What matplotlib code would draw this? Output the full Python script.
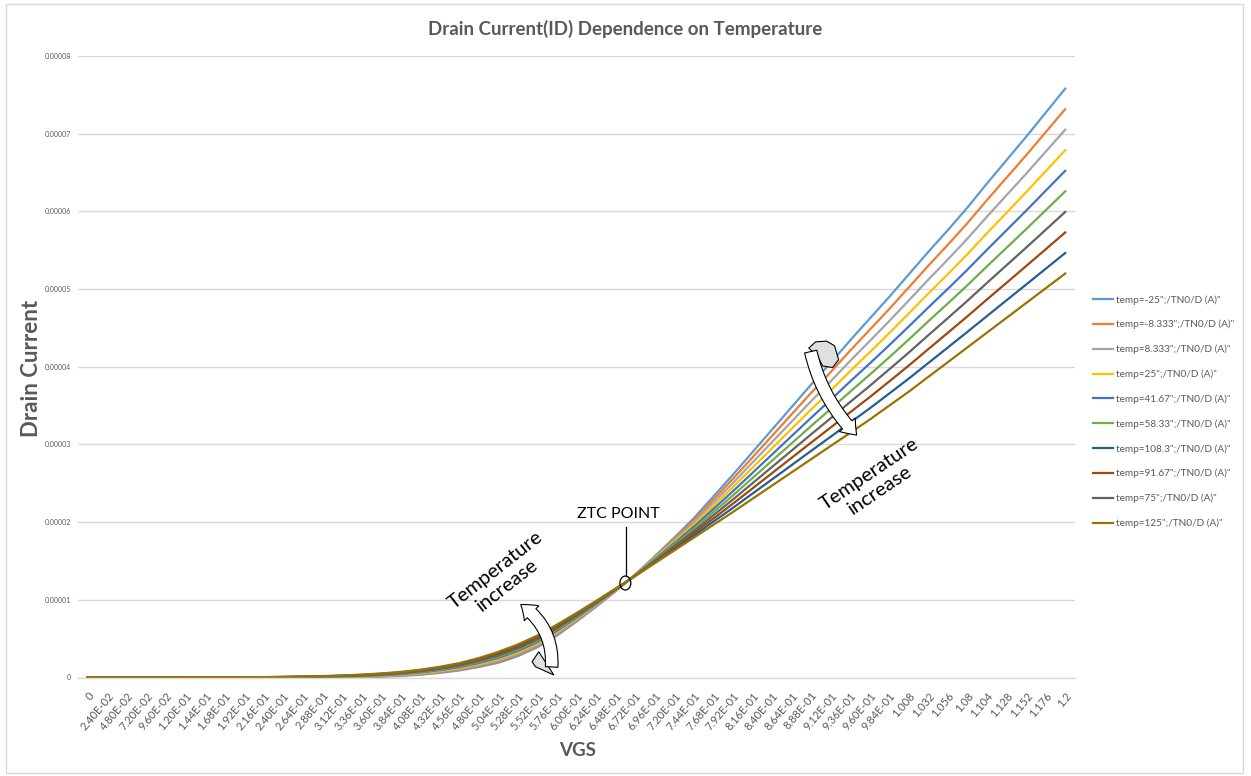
import numpy as np
import matplotlib
matplotlib.use("Agg")
import matplotlib.pyplot as plt
from matplotlib.patches import Ellipse, FancyArrowPatch, Polygon, Rectangle

plt.rcParams['font.family'] = ['Lato', 'DejaVu Sans']

# VGS sweep (V), one category per point
vgs = [0.000, 0.024, 0.048, 0.072, 0.096, 0.120, 0.144, 0.168, 0.192, 0.216,
       0.240, 0.264, 0.288, 0.312, 0.336, 0.360, 0.384, 0.408, 0.432, 0.456,
       0.480, 0.504, 0.528, 0.552, 0.576, 0.600, 0.624, 0.648, 0.672, 0.696,
       0.720, 0.744, 0.768, 0.792, 0.816, 0.840, 0.864, 0.888, 0.912, 0.936,
       0.960, 0.984, 1.008, 1.032, 1.056, 1.080, 1.104, 1.128, 1.152, 1.176,
       1.200]

# drain current in uA
id_m25 = [0, 0, 0, 0, 0, 0, 0, 0.001, 0.001, 0.002,
          0.003, 0.005, 0.01, 0.02, 0.05, 0.10, 0.20, 0.35, 0.60, 0.90,
          1.35, 1.90, 2.75, 3.90, 5.40, 7.20, 9.10, 11.10, 13.25, 15.60,
          18.00, 20.50, 23.30, 26.10, 29.00, 31.90, 34.80, 37.70, 40.50, 43.40,
          46.20, 49.00, 51.90, 54.80, 57.60, 60.50, 63.60, 66.60, 69.60, 72.70,
          75.80]
id_m8 = [0.0001, 0.0001, 0.0002, 0.0003, 0.0006, 0.0009, 0.0013, 0.0031, 0.0042, 0.0073,
         0.012, 0.018, 0.029, 0.047, 0.086, 0.147, 0.258, 0.422, 0.687, 1.006,
         1.478, 2.056, 2.917, 4.067, 5.556, 7.322, 9.183, 11.14, 13.23, 15.50,
         17.82, 20.22, 22.89, 25.57, 28.33, 31.10, 33.87, 36.63, 39.31, 42.08,
         44.76, 47.44, 50.22, 53.01, 55.71, 58.50, 61.47, 64.34, 67.22, 70.19,
         73.16]
id_p8 = [0.0002, 0.0002, 0.0004, 0.0007, 0.0011, 0.0018, 0.0027, 0.0052, 0.0074, 0.0127,
         0.020, 0.031, 0.048, 0.073, 0.121, 0.193, 0.316, 0.494, 0.773, 1.111,
         1.606, 2.211, 3.083, 4.233, 5.711, 7.444, 9.267, 11.18, 13.21, 15.40,
         17.63, 19.94, 22.49, 25.03, 27.67, 30.30, 32.93, 35.57, 38.12, 40.76,
         43.31, 45.89, 48.54, 51.22, 53.82, 56.50, 59.33, 62.09, 64.84, 67.68,
         70.51]
id_25 = [0.0003, 0.0003, 0.0007, 0.001, 0.0017, 0.0027, 0.004, 0.0073, 0.0107, 0.018,
         0.029, 0.043, 0.067, 0.10, 0.157, 0.24, 0.373, 0.567, 0.86, 1.217,
         1.733, 2.367, 3.25, 4.40, 5.867, 7.567, 9.35, 11.22, 13.18, 15.30,
         17.45, 19.67, 22.08, 24.50, 27.00, 29.50, 32.00, 34.50, 36.93, 39.43,
         41.87, 44.33, 46.87, 49.43, 51.93, 54.50, 57.20, 59.83, 62.47, 65.17,
         67.87]
id_42 = [0.0004, 0.0004, 0.0009, 0.0013, 0.0022, 0.0036, 0.0053, 0.0094, 0.0139, 0.0233,
         0.037, 0.056, 0.086, 0.127, 0.192, 0.287, 0.431, 0.639, 0.947, 1.322,
         1.861, 2.522, 3.417, 4.567, 6.022, 7.689, 9.433, 11.26, 13.16, 15.20,
         17.27, 19.39, 21.68, 23.97, 26.33, 28.70, 31.07, 33.43, 35.74, 38.11,
         40.42, 42.78, 45.19, 47.64, 50.04, 52.50, 55.07, 57.58, 60.09, 62.66,
         65.22]
id_58 = [0.0006, 0.0006, 0.0011, 0.0017, 0.0028, 0.0044, 0.0067, 0.0116, 0.0171, 0.0287,
         0.046, 0.069, 0.104, 0.153, 0.228, 0.333, 0.489, 0.711, 1.033, 1.428,
         1.989, 2.678, 3.583, 4.733, 6.178, 7.811, 9.517, 11.29, 13.14, 15.10,
         17.08, 19.11, 21.27, 23.43, 25.67, 27.90, 30.13, 32.37, 34.56, 36.79,
         38.98, 41.22, 43.51, 45.86, 48.16, 50.50, 52.93, 55.32, 57.71, 60.14,
         62.58]
id_75 = [0.0007, 0.0007, 0.0013, 0.002, 0.0033, 0.0053, 0.008, 0.0137, 0.0203, 0.034,
         0.054, 0.082, 0.123, 0.18, 0.263, 0.38, 0.547, 0.783, 1.12, 1.533,
         2.117, 2.833, 3.75, 4.90, 6.333, 7.933, 9.60, 11.33, 13.12, 15.00,
         16.90, 18.83, 20.87, 22.90, 25.00, 27.10, 29.20, 31.30, 33.37, 35.47,
         37.53, 39.67, 41.83, 44.07, 46.27, 48.50, 50.80, 53.07, 55.33, 57.63,
         59.93]
id_92 = [0.0008, 0.0008, 0.0016, 0.0023, 0.0039, 0.0062, 0.0093, 0.0158, 0.0236, 0.0393,
         0.063, 0.094, 0.142, 0.207, 0.299, 0.427, 0.604, 0.856, 1.207, 1.639,
         2.244, 2.989, 3.917, 5.067, 6.489, 8.056, 9.683, 11.37, 13.09, 14.90,
         16.72, 18.56, 20.46, 22.37, 24.33, 26.30, 28.27, 30.23, 32.18, 34.14,
         36.09, 38.11, 40.16, 42.28, 44.38, 46.50, 48.67, 50.81, 52.96, 55.12,
         57.29]
id_108 = [0.0009, 0.0009, 0.0018, 0.0027, 0.0044, 0.0071, 0.0107, 0.0179, 0.0268, 0.0447,
          0.071, 0.107, 0.161, 0.233, 0.334, 0.473, 0.662, 0.928, 1.293, 1.744,
          2.372, 3.144, 4.083, 5.233, 6.644, 8.178, 9.767, 11.41, 13.07, 14.80,
          16.53, 18.28, 20.06, 21.83, 23.67, 25.50, 27.33, 29.17, 30.99, 32.82,
          34.64, 36.56, 38.48, 40.49, 42.49, 44.50, 46.53, 48.56, 50.58, 52.61,
          54.64]
id_125 = [0.001, 0.001, 0.002, 0.003, 0.005, 0.008, 0.012, 0.02, 0.03, 0.05,
          0.08, 0.12, 0.18, 0.26, 0.37, 0.52, 0.72, 1.0, 1.38, 1.85,
          2.5, 3.3, 4.25, 5.4, 6.8, 8.3, 9.85, 11.45, 13.05, 14.7,
          16.35, 18.0, 19.65, 21.3, 23.0, 24.7, 26.4, 28.1, 29.8, 31.5,
          33.2, 35.0, 36.8, 38.7, 40.6, 42.5, 44.4, 46.3, 48.2, 50.1,
          52.0]

temps = ['-25', '-8.333', '8.333', '25', '41.67', '58.33', '108.3', '91.67', '75', '125']
curves = [id_m25, id_m8, id_p8, id_25, id_42, id_58, id_108, id_92, id_75, id_125]
colors = ['#5B9BD5', '#ED7D31', '#A5A5A5', '#FFC000', '#4472C4',
          '#70AD47', '#255E91', '#9E480E', '#636363', '#997300']

grey_txt = '#595959'
W, H = 1251, 776

fig = plt.figure(figsize=(W / 100, H / 100), dpi=100)
ax = fig.add_axes([78 / W, 98.5 / H, 997 / W, 621.5 / H])

xpos = np.arange(len(vgs))
for t, d, c in zip(temps, curves, colors):
    ax.plot(xpos, np.array(d) * 1e-6, color=c, lw=1.6,
            label=f'temp={t}";/TN0/D (A)"')

ax.set_xlim(-0.5, len(vgs) - 0.5)
ax.set_ylim(0, 8e-5)


def excel_general(v):
    if v == 0:
        return '0'
    if v < 1:
        return f'{v:.2E}'
    return f'{v:g}'


ax.set_xticks(xpos)
ax.set_xticklabels([excel_general(v) for v in vgs], rotation=50, ha='right',
                   va='top', rotation_mode='anchor', fontsize=8, color=grey_txt,
                   family=['Liberation Sans Narrow', 'Lato'])
yt = np.arange(0, 9) * 1e-5
ax.set_yticks(yt)
ax.set_yticklabels(['0'] + [f'{v:.5f}' for v in yt[1:]], fontsize=5, color=grey_txt)
ax.tick_params(axis='x', length=0, pad=9)
ax.tick_params(axis='y', length=0, pad=5)

ax.grid(axis='y', color='#d9d9d9', lw=1)
ax.set_axisbelow(True)
for s in ['top', 'right', 'left']:
    ax.spines[s].set_visible(False)
ax.spines['bottom'].set_color('#d9d9d9')
ax.spines['bottom'].set_linewidth(1)

ax.legend(loc='upper left', bbox_to_anchor=(1084 / W, 1 - 286 / H),
          bbox_transform=fig.transFigure, frameon=False, fontsize=7.2,
          labelcolor=grey_txt, handlelength=2.0, handletextpad=0.3,
          labelspacing=1.53)

fig.text(0.5, 1 - 29 / H, 'Drain Current(ID) Dependence on Temperature',
         ha='center', va='center', fontsize=13.5, fontweight='bold', color=grey_txt)
fig.text(31 / W, 1 - 368 / H, 'Drain Current', rotation=90, ha='center',
         va='center', fontsize=16, fontweight='bold', color=grey_txt)
fig.text(578 / W, 1 - 750 / H, 'VGS', ha='center', va='center',
         fontsize=13.5, fontweight='bold', color=grey_txt)

# ZTC marker
ax.add_patch(Ellipse((27.5, 12.16e-6), 0.56, 1.8e-6, fill=False, ec='black',
                     lw=0.9, zorder=5))
ax.plot([27.53, 27.53], [13.1e-6, 19.4e-6], color='black', lw=0.9, zorder=5)
ax.text(27.15, 21.1e-6, 'ZTC POINT', ha='center', va='center', fontsize=11.5,
        color='black', zorder=5)

# temperature labels
ax.text(21.16, 12.8e-6, 'Temperature\nincrease', ha='center', va='center',
        rotation=38, fontsize=14.5, linespacing=1.15, color='black', zorder=5)
ax.text(40.26, 25.2e-6, 'Temperature\nincrease', ha='center', va='center',
        rotation=34, fontsize=14.5, linespacing=1.15, color='black', zorder=5)

# curved ribbon arrows
arrow_style = 'simple,head_length=0.5,head_width=0.75,tail_width=0.45'
ax.add_patch(Polygon([(22.73, 2.03e-6), (23.07, 3.31e-6), (23.84, 0.32e-6),
                      (22.90, 1.39e-6)], closed=True, fc='#e0e0e0', ec='black',
                     lw=0.8, zorder=5))
ax.add_patch(FancyArrowPatch((23.72, 1.0e-6), (22.03, 9.59e-6),
                             arrowstyle=arrow_style, mutation_scale=20,
                             connectionstyle='arc3,rad=0.3',
                             fc='white', ec='black', lw=0.8, zorder=6))

ax.add_patch(Polygon([(36.88, 42.4e-6), (37.23, 43.2e-6), (37.79, 43.3e-6),
                      (38.20, 42.7e-6), (38.41, 40.9e-6), (38.10, 39.9e-6),
                      (37.59, 40.1e-6), (37.33, 41.4e-6)], closed=True,
                     fc='#e0e0e0', ec='black', lw=0.8, zorder=5))
ax.add_patch(FancyArrowPatch((36.95, 42.3e-6), (39.43, 30.95e-6),
                             arrowstyle=arrow_style, mutation_scale=20,
                             connectionstyle='arc3,rad=0.15',
                             fc='white', ec='black', lw=0.8, zorder=6))

# chart area border
fig.patches.append(Rectangle((6 / W, 3 / H), 1237 / W, 769 / H,
                             transform=fig.transFigure, fill=False,
                             ec='#d9d9d9', lw=1))

fig.savefig('out.png', dpi=100)
